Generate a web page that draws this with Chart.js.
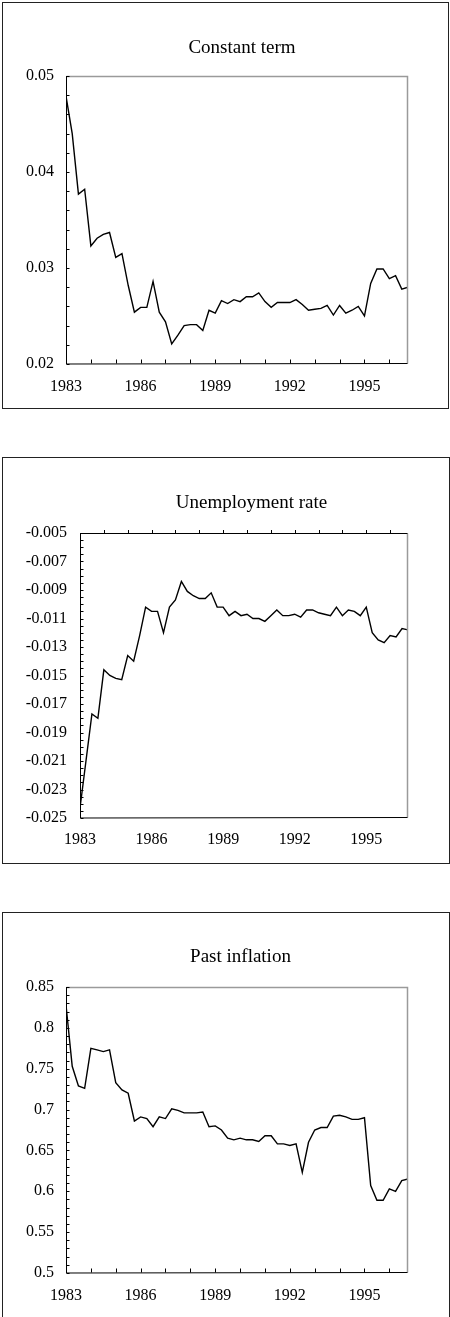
<!DOCTYPE html>
<html><head><meta charset="utf-8">
<script src="https://cdn.jsdelivr.net/npm/chart.js@4/dist/chart.umd.min.js"></script>
<style>
html,body{margin:0;padding:0;width:450px;height:1317px;overflow:hidden;background:#fff;}
.box{position:absolute;border:1px solid #222;box-sizing:border-box;}
canvas{position:absolute;left:0;}
</style></head><body>
<div class="box" style="left:2px;top:2px;width:447px;height:407px"></div>
<div class="box" style="left:2px;top:457px;width:448px;height:407px"></div>
<div class="box" style="left:2px;top:912px;width:448px;height:420px"></div>
<canvas id="c1"></canvas>
<canvas id="c2"></canvas>
<canvas id="c3"></canvas>
<script>
// ---- data (quarterly, 1983Q1 .. 1996Q4) ----
const quarters = [];
for (let yr = 1983; yr <= 1996; yr++) { for (let q = 0; q < 4; q++) quarters.push(yr + q / 4); }

const constantTerm = [
 0.0479,0.0440,0.0377,0.0382, 0.0323,0.0331,0.0335,0.0337, 0.0311,0.0315,0.0282,0.0254,
 0.0259,0.0259,0.0286,0.0254, 0.0244,0.0221,0.0230,0.0240, 0.0241,0.0241,0.0235,0.0256,
 0.0253,0.0266,0.0263,0.0267, 0.0265,0.0270,0.0270,0.0274, 0.0265,0.0259,0.0264,0.0264,
 0.0264,0.0267,0.0262,0.0256, 0.0257,0.0258,0.0261,0.0251, 0.0261,0.0253,0.0256,0.0260,
 0.0250,0.0284,0.0299,0.0299, 0.0289,0.0292,0.0278,0.0280
];
const unemploymentRate = [
 -0.0243,-0.0210,-0.0177,-0.0180, -0.0146,-0.0150,-0.0152,-0.0153, -0.0136,-0.0140,-0.0122,-0.0102,
 -0.0105,-0.0105,-0.0120,-0.0102, -0.0097,-0.0084,-0.0091,-0.0094, -0.0096,-0.0096,-0.0092,-0.0102,
 -0.0102,-0.0108,-0.0105,-0.0108, -0.0107,-0.0110,-0.0110,-0.0112, -0.0108,-0.0104,-0.0108,-0.0108,
 -0.0107,-0.0109,-0.0104,-0.0104, -0.0106,-0.0107,-0.0108,-0.0102, -0.0108,-0.0104,-0.0105,-0.0108,
 -0.0102,-0.0120,-0.0125,-0.0127, -0.0122,-0.0123,-0.0117,-0.0118
];
const pastInflation = [
 0.828,0.753,0.729,0.726, 0.775,0.773,0.771,0.773, 0.733,0.724,0.720,0.686,
 0.691,0.689,0.679,0.691, 0.689,0.701,0.699,0.696, 0.696,0.696,0.697,0.679,
 0.680,0.675,0.665,0.663, 0.665,0.663,0.663,0.661, 0.668,0.668,0.658,0.658,
 0.656,0.658,0.623,0.660, 0.675,0.678,0.678,0.692, 0.693,0.691,0.688,0.688,
 0.690,0.607,0.589,0.589, 0.603,0.600,0.613,0.615
];

const labelYears = [1983, 1986, 1989, 1992, 1995];
const yearTicks = [1984,1985,1986,1987,1988,1989,1990,1991,1992,1993,1994,1995,1996];
const yTicks1 = [0.02, 0.03, 0.04, 0.05];
const yTicks2 = [-0.025,-0.023,-0.021,-0.019,-0.017,-0.015,-0.013,-0.011,-0.009,-0.007,-0.005];
const yTicks3 = [0.5, 0.55, 0.6, 0.65, 0.7, 0.75, 0.8, 0.85];

const FONT = '"Liberation Serif","Times New Roman",Times,serif';

const framePlugin = {
  id: 'frame',
  afterDraw(chart, args, o) {
    const {ctx, chartArea: a, scales: {x, y}} = chart;
    const L = Math.round(a.left) + 0.5, R = Math.round(a.right) - 0.5;
    const T = Math.round(a.top) + 0.5, B = Math.round(a.bottom) - 0.5;
    ctx.save();
    ctx.lineWidth = 1.5; ctx.strokeStyle = '#9a9a9a';
    ctx.beginPath();
    if (!o.topBlack) { ctx.moveTo(L, T); ctx.lineTo(R, T); } else { ctx.moveTo(R, T); }
    ctx.lineTo(R, B); ctx.stroke();
    ctx.lineWidth = 1; ctx.strokeStyle = '#000';
    ctx.beginPath();
    ctx.moveTo(L, T - 0.5); ctx.lineTo(L, B + 0.5); ctx.lineTo(R, B);
    if (o.topBlack) { ctx.moveTo(L, T); ctx.lineTo(R, T); }
    const n = Math.round((o.yMax - o.yMin) / o.minor);
    for (let k = 0; k <= n; k++) {
      const py = Math.round(y.getPixelForValue(o.yMin + k * o.minor)) + 0.5;
      ctx.moveTo(L, py); ctx.lineTo(L + 3, py);
    }
    yearTicks.forEach(yr => {
      const px = Math.round(x.getPixelForValue(yr)) + 0.5;
      if (o.topBlack) { ctx.moveTo(px, T); ctx.lineTo(px, T - 3.5); }
      else { ctx.moveTo(px, B); ctx.lineTo(px, B - 4); }
    });
    ctx.stroke();
    ctx.restore();
  }
};

function makeChart(id, c) {
  const el = document.getElementById(id);
  el.width = c.W; el.height = c.H;
  el.style.width = c.W + 'px'; el.style.height = c.H + 'px'; el.style.top = c.top + 'px';
  return new Chart(el, {
    type: 'line',
    data: { datasets: [{
      data: quarters.map((q, i) => ({x: q, y: c.values[i]})),
      borderColor: '#000', borderWidth: 1.4, pointRadius: 0, tension: 0, fill: false, yAxisID: 'y'
    }]},
    options: {
      responsive: false, animation: false, devicePixelRatio: 1,
      layout: { padding: 0 },
      plugins: {
        legend: { display: false }, tooltip: { enabled: false },
        title: { display: true, text: c.title, color: '#000',
          font: { family: FONT, size: 19, weight: 'normal', lineHeight: 1 },
          padding: { top: c.titleY - 9.5, bottom: c.plotTop - (c.titleY + 9.5) } },
        frame: { yMin: c.yMin, yMax: c.yMax, minor: c.minor, topBlack: c.topBlack }
      },
      scales: {
        x: { type: 'linear', min: 1983, max: 1996.75,
          grid: { display: false, drawTicks: false }, border: { display: false },
          ticks: { padding: c.padX, color: '#000', font: { family: FONT, size: 16 },
            maxRotation: 0, autoSkip: false, callback: v => String(v) },
          afterBuildTicks: s => { s.ticks = labelYears.map(v => ({value: v})); },
          afterFit: s => { s.height = c.H - c.plotBottom; } },
        y: { type: 'linear', position: 'left', min: c.yMin, max: c.yMax,
          grid: { display: false, drawTicks: false }, border: { display: false },
          ticks: { padding: c.padY, color: '#000', font: { family: FONT, size: 16 },
            autoSkip: false, callback: c.fmt },
          afterBuildTicks: s => { s.ticks = c.yTicks.map(v => ({value: v})); },
          afterFit: s => { s.width = c.plotLeft; } },
        spacer: { type: 'linear', position: 'right', display: true,
          grid: { display: false, drawTicks: false }, border: { display: false },
          ticks: { display: false },
          afterFit: s => { s.width = c.W - c.plotRight; } }
      }
    },
    plugins: [framePlugin]
  });
}

makeChart('c1', { title: 'Constant term', values: constantTerm, top: 0, W: 484, H: 410,
  titleY: 48, plotTop: 76, plotBottom: 364, plotLeft: 66, plotRight: 408,
  yMin: 0.02, yMax: 0.05, yTicks: yTicks1, minor: 0.002, topBlack: false,
  padX: 13, padY: 12, fmt: v => v.toFixed(2) });

makeChart('c2', { title: 'Unemployment rate', values: unemploymentRate, top: 440, W: 503, H: 420,
  titleY: 63, plotTop: 93, plotBottom: 378, plotLeft: 80, plotRight: 408,
  yMin: -0.025, yMax: -0.005, yTicks: yTicks2, minor: 0.0005, topBlack: true,
  padX: 12, padY: 13, fmt: v => v.toFixed(3) });

makeChart('c3', { title: 'Past inflation', values: pastInflation, top: 880, W: 481, H: 437,
  titleY: 77, plotTop: 107, plotBottom: 393, plotLeft: 66, plotRight: 408,
  yMin: 0.5, yMax: 0.85, yTicks: yTicks3, minor: 0.01, topBlack: false,
  padX: 13, padY: 12, fmt: v => String(parseFloat(v.toFixed(2))) });
</script>
</body></html>
